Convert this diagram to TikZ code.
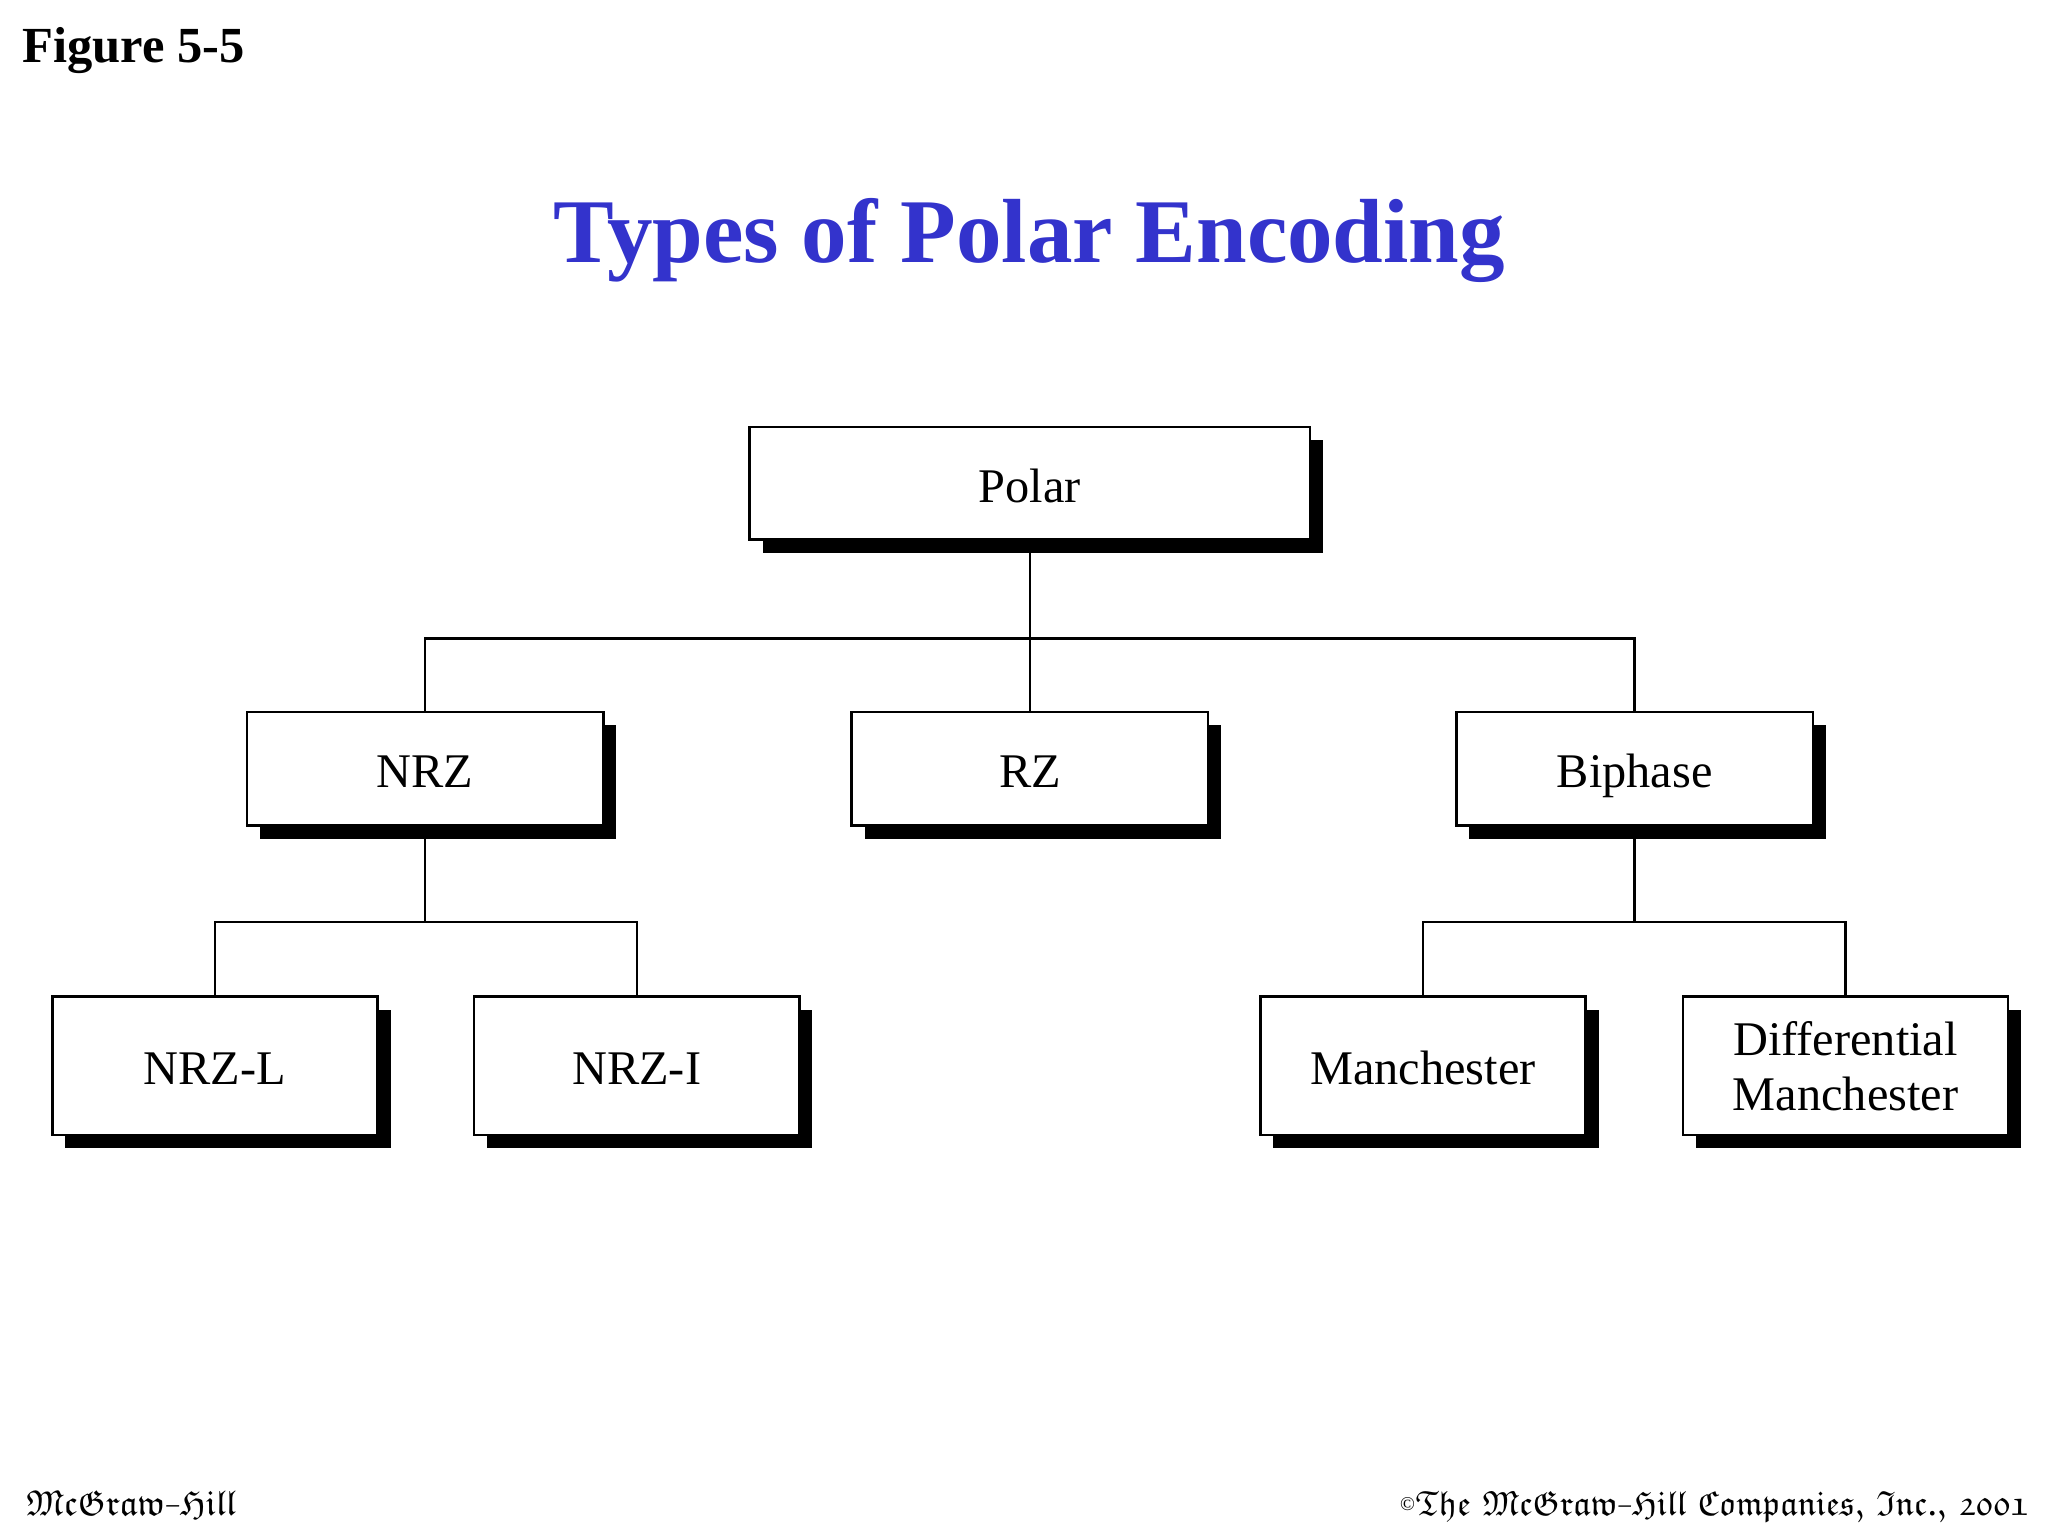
\documentclass[tikz,border=0pt]{standalone}
\usepackage{fontspec}
\usepackage{amssymb}
\setmainfont{Liberation Serif}
\usetikzlibrary{shadows}
\definecolor{titleblue}{RGB}{51,51,204}
\newcommand\frakfnt{\usefont{U}{euf}{m}{n}\fontsize{24.88}{28}\selectfont}
\newcommand\frakhy{\scalebox{0.55}[1]{-}}
\begin{document}
\begin{tikzpicture}[x=1pt,y=-1pt,
  box/.style={draw=black, line width=2pt, fill=white, inner sep=0pt,
    font=\fontsize{37}{42}\selectfont, text height=29pt, text depth=0pt,
    drop shadow={shadow xshift=10pt, shadow yshift=-10pt, fill=black, opacity=1}},
  lvlone/.style={box, minimum width=273pt, minimum height=87pt},
  lvltwo/.style={box, minimum width=249pt, minimum height=106pt},
  conn/.style={line width=1.9pt, draw=black}]
\useasboundingbox (0,0) rectangle (1568,1176);
\fill[white] (0,0) rectangle (1568,1176);
\node[anchor=base west, font=\bfseries\fontsize{38.7}{44}\selectfont, inner sep=0pt] (fig) at (17,48) {Figure 5-5};
\node[anchor=base, font=\bfseries\fontsize{69.7}{80}\selectfont, text=titleblue, inner sep=0pt] (title) at (788,201) {Types of Polar Encoding};
\node[box, minimum width=429pt, minimum height=86pt] (polar) at (788.5,370) {Polar};
\node[lvlone] (nrz) at (325.5,588.5) {NRZ};
\node[lvlone] (rz) at (788.5,588.5) {RZ};
\node[lvlone] (biphase) at (1251.5,588.5) {Biphase};
\node[lvltwo] (nrzl) at (164.5,816) {NRZ-L};
\node[lvltwo] (nrzi) at (487.5,816) {NRZ-I};
\node[lvltwo] (man) at (1089.5,816) {Manchester};
\node[lvltwo, align=center, text height=, text depth=] (dman) at (1413,816) {Differential\\Manchester};
\coordinate (j1) at (788.5,489);
\coordinate (j2) at (325.5,706);
\coordinate (j3) at (1251.5,706);
\draw[conn] (polar.south) -- (j1);
\draw[conn] (nrz.north) |- (j1) -| (biphase.north);
\draw[conn] (j1) -- (rz.north);
\draw[conn] (nrz.south) -- (j2);
\draw[conn] (nrzl.north) |- (j2) -| (nrzi.north);
\draw[conn] (biphase.south) -- (j3);
\draw[conn] (man.north) |- (j3) -| (dman.north);
\node[anchor=base west, inner sep=0pt, scale=1.1] (pub) at (20,1160) {\frakfnt McGraw\frakhy Hill};
\node[anchor=base east, inner sep=0pt, scale=1.07] (copy) at (1553,1160) {\textsuperscript{\fontsize{14}{14}\selectfont\copyright}\frakfnt The McGraw\frakhy Hill Companies, Inc., 2001};
\end{tikzpicture}
\end{document}
